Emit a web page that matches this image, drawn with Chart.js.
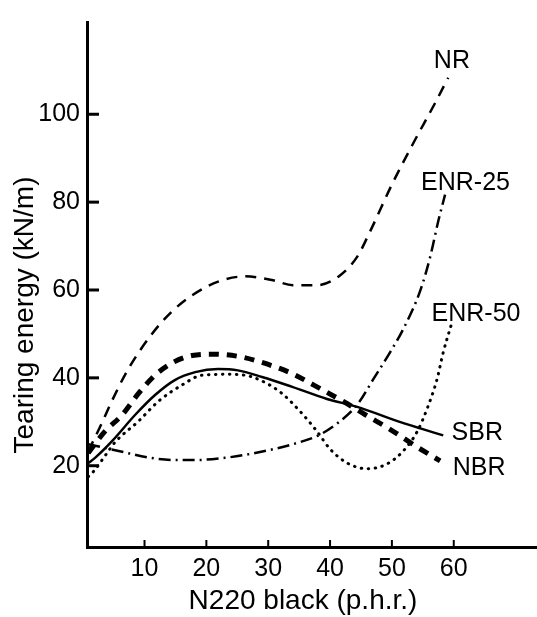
<!DOCTYPE html>
<html>
<head>
<meta charset="utf-8">
<script src="https://cdn.jsdelivr.net/npm/chart.js@4"></script>
<style>
  body { margin: 0; background: #fff; }
  #wrap { width: 537px; height: 617px; }
</style>
</head>
<body>
<div id="wrap"><canvas id="chart" width="537" height="617"></canvas></div>
<script>
// Data: [N220 black (p.h.r.), tearing energy (kN/m)]
const nrPoints = [[0.9,23.3],[2.8,28.8],[4.75,34.8],[7.2,41.6],[11.2,50.0],[14.5,55.2],[17.7,58.8],[21.9,61.9],[26.3,63.1],[30.8,62.2],[34.0,61.1],[37.9,61.1],[41.6,63.3],[44.4,67.6],[46.5,73.4],[50.0,84.0],[53.3,93.0],[57.0,102.6],[59.1,108.3]];
const enr25Points = [[0.9,24.9],[6.0,23.3],[10.9,21.8],[14.9,21.3],[18.2,21.3],[23.0,21.8],[27.9,22.9],[34.0,24.9],[38.4,27.1],[41.6,30.1],[44.4,33.9],[47.0,39.7],[49.7,45.8],[51.8,51.0],[54.6,59.9],[56.2,67.6],[57.5,75.7],[58.6,81.7]];
const enr50Points = [[0.9,17.5],[1.7,18.6],[3.9,22.8],[5.2,25.3],[9.0,30.1],[12.2,34.6],[16.1,38.4],[19.3,40.6],[23.5,40.8],[27.4,40.2],[31.9,36.8],[35.2,32.3],[37.9,27.8],[40.0,23.8],[42.8,20.6],[46.0,19.3],[49.2,20.4],[51.8,23.3],[54.1,27.8],[55.7,33.0],[57.3,39.7],[58.3,45.8],[59.6,52.1]];
const sbrPoints = [[0.9,20.6],[2.0,21.8],[4.75,25.6],[8.5,31.6],[11.7,36.1],[14.9,39.5],[18.2,41.3],[21.9,42.0],[25.1,41.7],[29.0,40.2],[34.0,37.9],[39.5,35.2],[44.4,33.4],[50.2,30.5],[54.6,28.5],[58.3,26.9]];
const nbrPoints = [[0.9,22.9],[3.6,27.8],[6.4,31.6],[9.0,36.4],[11.7,40.6],[14.6,43.5],[17.7,45.1],[21.1,45.4],[25.1,44.9],[29.0,43.5],[34.0,40.9],[37.3,38.4],[42.8,34.1],[45.7,31.6],[49.7,28.3],[53.8,24.5],[57.8,21.1]];

const xTicks = [10, 20, 30, 40, 50, 60];
const yTicks = [20, 40, 60, 80, 100];

// curve names, placed in data units next to the line ends
const curveLabels = [
  { text: 'NR', x: 59.7, y: 112.1 },
  { text: 'ENR-25', x: 61.9, y: 84.4 },
  { text: 'ENR-50', x: 63.6, y: 54.5 },
  { text: 'SBR', x: 63.8, y: 27.4 },
  { text: 'NBR', x: 64.1, y: 19.5 }
];

const FONT = "'Liberation Sans', Arial, Helvetica, sans-serif";
Chart.defaults.font.family = FONT;
Chart.defaults.color = '#000';

function toXY(pts) {
  return pts.map(p => ({ x: p[0], y: p[1] }));
}

function line(label, pts, width, dash, cap) {
  return {
    label: label,
    data: toXY(pts),
    borderColor: '#000',
    borderWidth: width,
    borderDash: dash,
    borderCapStyle: cap || 'butt',
    pointRadius: 0,
    cubicInterpolationMode: 'monotone',
    fill: false
  };
}

// inward tick marks, curve labels and axis titles
const decorPlugin = {
  id: 'decor',
  afterDraw(chart) {
    const ctx = chart.ctx;
    const xs = chart.scales.x;
    const ys = chart.scales.y;
    const area = chart.chartArea;
    ctx.save();
    ctx.strokeStyle = '#000';

    ctx.lineWidth = 3;
    yTicks.forEach(v => {
      const py = ys.getPixelForValue(v);
      ctx.beginPath();
      ctx.moveTo(area.left, py);
      ctx.lineTo(area.left + 12, py);
      ctx.stroke();
    });
    ctx.lineWidth = 2;
    xTicks.forEach(v => {
      const px = xs.getPixelForValue(v);
      ctx.beginPath();
      ctx.moveTo(px, area.bottom);
      ctx.lineTo(px, area.bottom - 7);
      ctx.stroke();
    });

    ctx.fillStyle = '#000';
    ctx.textAlign = 'center';
    ctx.textBaseline = 'middle';
    ctx.font = '25px ' + FONT;
    curveLabels.forEach(l => {
      ctx.fillText(l.text, xs.getPixelForValue(l.x), ys.getPixelForValue(l.y));
    });

    ctx.font = '28px ' + FONT;
    ctx.fillText('N220 black (p.h.r.)', area.left + 216, area.bottom + 54);
    ctx.translate(area.left - 62, area.top + 293);
    ctx.rotate(-Math.PI / 2);
    ctx.fillText('Tearing energy (kN/m)', 0, 0);
    ctx.restore();
  }
};

new Chart(document.getElementById('chart'), {
  type: 'line',
  data: {
    datasets: [
      line('NR', nrPoints, 2.5, [11, 8]),
      line('ENR-25', enr25Points, 2.5, [12, 5, 2, 5]),
      line('ENR-50', enr50Points, 3, [0.5, 6.5], 'round'),
      line('SBR', sbrPoints, 2.5, []),
      line('NBR', nbrPoints, 5, [10, 8])
    ]
  },
  options: {
    responsive: false,
    animation: false,
    layout: { padding: { top: 14, right: 1, left: 0, bottom: 0 } },
    plugins: {
      legend: { display: false },
      tooltip: { enabled: false }
    },
    scales: {
      x: {
        type: 'linear',
        min: 0.7,
        max: 73.3,
        afterBuildTicks: s => { s.ticks = xTicks.map(v => ({ value: v })); },
        afterFit: s => { s.height = 70; },
        border: { display: true, color: '#000', width: 3 },
        grid: { display: false, drawTicks: false },
        ticks: { font: { size: 25 }, padding: 7, maxRotation: 0 }
      },
      y: {
        type: 'linear',
        min: 1.5,
        max: 121,
        afterBuildTicks: s => { s.ticks = yTicks.map(v => ({ value: v })); },
        afterFit: s => { s.width = 87; },
        border: { display: true, color: '#000', width: 3 },
        grid: { display: false, drawTicks: false },
        ticks: { font: { size: 25 }, padding: 7 }
      }
    }
  },
  plugins: [decorPlugin]
});
</script>
</body>
</html>
